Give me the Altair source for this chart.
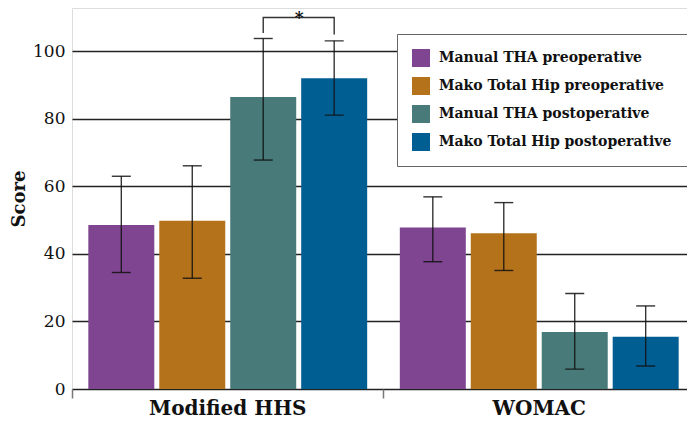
import altair as alt
import pandas as pd

groups = ["Modified HHS", "WOMAC"]
series = ["Manual THA preoperative", "Mako Total Hip preoperative",
          "Manual THA postoperative", "Mako Total Hip postoperative"]
colors = ["#7F4591", "#B4731B", "#487A7A", "#005E93"]

hhs_mean = [48.6, 49.8, 86.5, 92.0]
hhs_low = [34.5, 32.8, 67.8, 81.1]
hhs_high = [63.0, 66.1, 103.8, 103.1]

womac_mean = [47.8, 46.1, 16.9, 15.5]
womac_low = [37.7, 35.1, 5.9, 6.8]
womac_high = [56.9, 55.2, 28.3, 24.6]

y_ticks = [0, 20, 40, 60, 80, 100]

# significance bracket (Modified HHS: manual vs mako postoperative)
bracket_series = [series[2], series[2], series[3], series[3]]
bracket_y = [105.4, 110.0, 110.0, 105.0]
bracket_order = [0, 1, 2, 3]
star_y = 112.3

rows = []
for g, means, lows, highs in [(groups[0], hhs_mean, hhs_low, hhs_high),
                               (groups[1], womac_mean, womac_low, womac_high)]:
    for s, m, lo, hi in zip(series, means, lows, highs):
        rows.append({"group": g, "series": s, "mean": m, "low": lo, "high": hi})
df = pd.DataFrame(rows)

br = pd.DataFrame({"group": [groups[0]] * 4, "series": bracket_series,
                   "y": bracket_y, "o": bracket_order})
star = pd.DataFrame({"group": [groups[0]], "series": [series[2]], "y": [star_y], "t": ["*"]})

FONT = "DejaVu Serif"

yscale = alt.Scale(domain=[0, 112.83], nice=False, zero=True)
xenc = alt.X("group:N", sort=groups,
             scale=alt.Scale(paddingInner=0, paddingOuter=0, range=[0, 623]),
             axis=alt.Axis(title=None, domain=False, ticks=True, tickSize=9, tickColor="#777",
                           tickWidth=1.5, bandPosition=0, labelAngle=0, labelFont=FONT,
                           labelFontWeight="bold", labelFontSize=20, labelColor="#111",
                           labelPadding=0))
xoff = alt.XOffset("series:N", sort=series,
                   scale=alt.Scale(domain=series, paddingInner=0.07, paddingOuter=0.23))

bars = alt.Chart(df).mark_bar().encode(
    x=xenc,
    xOffset=xoff,
    y=alt.Y("mean:Q", scale=yscale,
            axis=alt.Axis(title="Score", values=y_ticks, domain=False, ticks=False,
                          grid=True, gridColor="#222", gridWidth=1.3,
                          labelFont=FONT, labelFontSize=17, labelColor="#111", labelPadding=7,
                          titleFont=FONT, titleFontSize=18, titleFontWeight="bold",
                          titleColor="#111", titlePadding=4)),
    color=alt.Color("series:N", sort=series,
                    scale=alt.Scale(domain=series, range=colors),
                    legend=alt.Legend(title=None, orient="none", legendX=325, legendY=26,
                                      symbolType="square", symbolSize=324, symbolStrokeWidth=0,
                                      labelFont=FONT, labelFontWeight="bold", labelFontSize=14,
                                      labelColor="#111", labelLimit=400, rowPadding=10,
                                      padding=15, strokeColor="#666", fillColor="white",
                                      labelOffset=9)),
)

enc_pos = dict(x=alt.X("group:N", sort=groups), xOffset=alt.XOffset("series:N", sort=series))

err = alt.Chart(df).mark_rule(color="#111", strokeWidth=1.4, opacity=0.85).encode(
    y="low:Q", y2="high:Q", **enc_pos)
cap_hi = alt.Chart(df).mark_tick(color="#111", thickness=1.4, size=19, opacity=0.85).encode(
    y="high:Q", **enc_pos)
cap_lo = alt.Chart(df).mark_tick(color="#111", thickness=1.4, size=19, opacity=0.85).encode(
    y="low:Q", **enc_pos)

bracket = alt.Chart(br).mark_line(color="#333", strokeWidth=1.4).encode(
    y="y:Q", order="o:Q", **enc_pos)
star_t = alt.Chart(star).mark_text(text="*", font=FONT, fontSize=17, fontWeight="bold",
                                   dx=36, baseline="top", color="#111").encode(
    y="y:Q", **enc_pos)

chart = alt.layer(bars, err, cap_hi, cap_lo, bracket, star_t).properties(
    width=615, height=381,
    autosize=alt.AutoSizeParams(type="none"),
    padding={"left": 64, "top": 0, "right": 0, "bottom": 30},
).configure_view(stroke=None).configure(background="white")

chart.save("out.html", embed_options={"renderer": "svg", "actions": False})
